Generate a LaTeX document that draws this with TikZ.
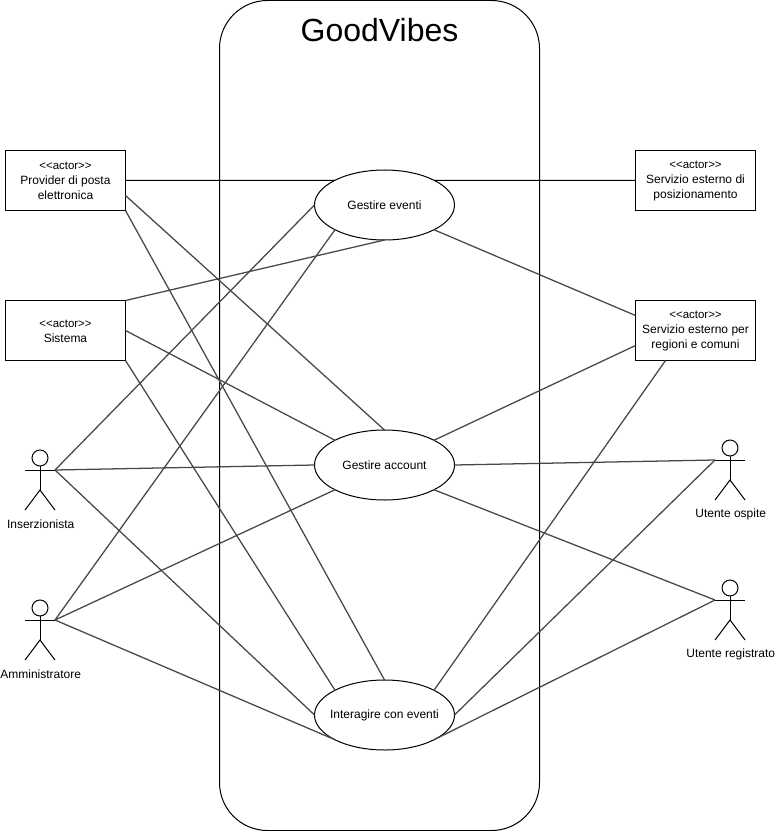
\documentclass[tikz,border=0pt]{standalone}
\usepackage{fontspec}
\setmainfont{Liberation Sans}
\usetikzlibrary{shapes.geometric}
\tikzset{
  px/.style={x=0.75pt,y=-0.75pt},
  line/.style={draw=black,line width=0.75pt},
  assoc/.style={draw=black!72,line width=0.95pt},
  straightassoc/.style={draw=black,line width=0.75pt},
  frame/.style={line,rounded corners=36pt},
  title/.style={font=\fontsize{24}{28}\selectfont,inner sep=0pt},
  extactor/.style={line,rectangle,fill=white,minimum width=90pt,minimum height=45pt,inner sep=0pt,outer sep=0pt,align=center,font=\fontsize{9}{11.25}\selectfont},
  usecase/.style={line,ellipse,fill=white,minimum width=105pt,minimum height=52.5pt,inner sep=0pt,outer sep=0pt,align=center,font=\fontsize{9}{11}\selectfont},
  head/.style={line,circle,minimum size=12pt,inner sep=0pt,outer sep=0pt},
  actorlabel/.style={font=\fontsize{9}{11}\selectfont,inner sep=0pt},
}
\newcommand{\stereo}{\rule{0pt}{6.6pt}{\fontsize{8.6}{11.25}\selectfont <{}<actor>{}>}}
\newcommand{\stickman}[4]{%
  \node[head] (#1-head) at (#2,#3-12) {};
  \coordinate (#1-neck) at (#2,#3);
  \coordinate (#1-l) at (#2-15,#3);
  \coordinate (#1-r) at (#2+15,#3);
  \coordinate (#1-hip) at (#2,#3+20);
  \coordinate (#1-fl) at (#2-15,#3+40);
  \coordinate (#1-fr) at (#2+15,#3+40);
  \draw[line] (#1-head.south) -- (#1-hip);
  \draw[line] (#1-l) -- (#1-r);
  \draw[line] (#1-fl) -- (#1-hip) -- (#1-fr);
  \node[actorlabel] (#1-label) at (#2+0.7,#3+54) {#4};
}
\begin{document}
\begin{tikzpicture}[px]
\useasboundingbox (0,0) rectangle (775,831);
\node[draw=none,minimum width=240pt,minimum height=622.5pt,inner sep=0pt,outer sep=0pt,frame,rectangle] (sys) at (379.5,415.5) {};
\node[title] (ttl) at (379.5,30) {GoodVibes};

\node[extactor] (prov) at (65.5,180.5) {\stereo\\Provider di posta\\elettronica};
\node[extactor] (sist) at (65.5,330.5) {\stereo\\Sistema};
\node[extactor] (pos) at (695.5,180.5) {\stereo\\Servizio esterno di\\posizionamento};
\node[extactor] (reg) at (695.5,330.5) {\stereo\\Servizio esterno per\\regioni e comuni};

\node[usecase] (ev) at (384.5,205) {\makebox[0pt]{Gestire eventi}};
\node[usecase] (acc) at (384.5,465) {\makebox[0pt]{Gestire account}};
\node[usecase] (int) at (384.5,715) {\makebox[0pt]{Interagire con eventi}};

\stickman{ins}{40}{470}{Inserzionista}
\stickman{adm}{40}{620}{Amministratore}
\stickman{osp}{730}{460}{Utente ospite}
\stickman{rgs}{730}{600}{Utente registrato}

\draw[straightassoc] (prov.east) -- (ev.north west);
\draw[assoc] ([yshift=-11.25pt]prov.east) -- (acc.north);
\draw[assoc] (prov.south east) -- (int.north);
\draw[assoc] (sist.north east) -- (ev.south);
\draw[assoc] (sist.east) -- (acc.north west);
\draw[assoc] (sist.south east) -- (int.north west);
\draw[assoc] (ins-r) -- (ev.west);
\draw[assoc] (ins-r) -- (acc.west);
\draw[assoc] (ins-r) -- (int.west);
\draw[assoc] (adm-r) -- (ev.south west);
\draw[assoc] (adm-r) -- (acc.south west);
\draw[assoc] (adm-r) -- (int.south west);
\draw[straightassoc] (ev.north east) -- (pos.west);
\draw[assoc] (ev.south east) -- ([yshift=11.25pt]reg.west);
\draw[assoc] (acc.north east) -- ([yshift=-11.25pt]reg.west);
\draw[assoc] (int.north east) -- ([xshift=22.5pt]reg.south west);
\draw[assoc] (acc.east) -- (osp-l);
\draw[assoc] (int.east) -- (osp-l);
\draw[assoc] (acc.south east) -- (rgs-l);
\draw[assoc] (int.south east) -- (rgs-l);
\end{tikzpicture}
\end{document}
